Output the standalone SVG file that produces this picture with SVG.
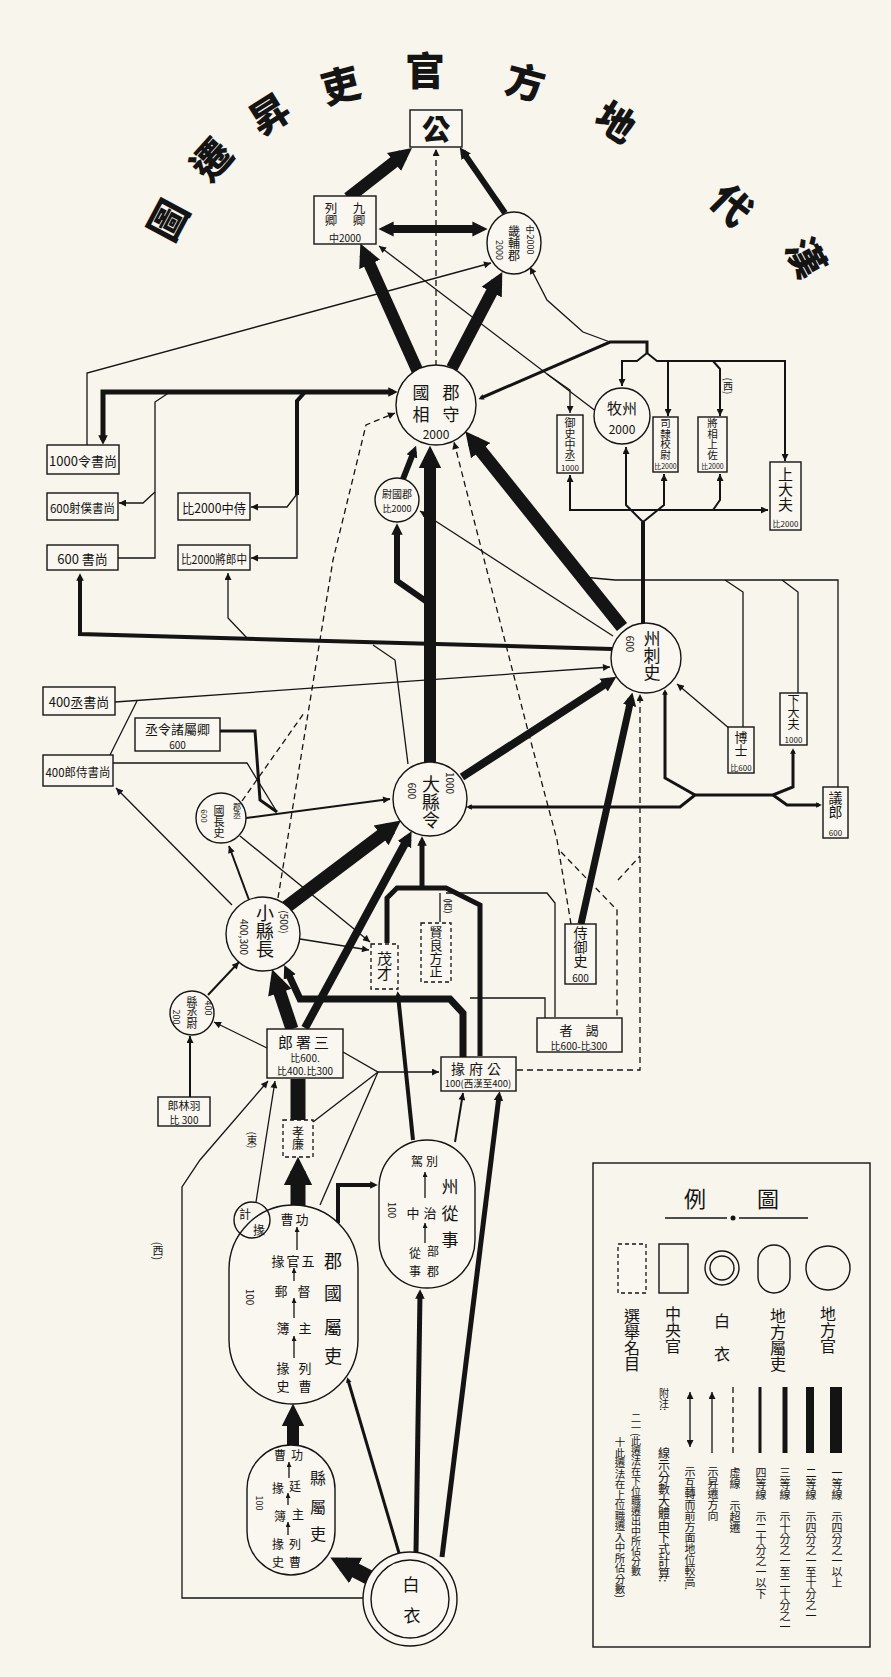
<svg xmlns="http://www.w3.org/2000/svg" width="891" height="1677" viewBox="0 0 891 1677">
<defs>
<style>
.bg{fill:#f7f5ec}
.n{fill:#f9f7ef;stroke:#141414;stroke-width:1.4}
.nd{fill:#f9f7ef;stroke:#141414;stroke-width:1.3;stroke-dasharray:4 3}
.nf{fill:none;stroke:#141414;stroke-width:1.4}
.t{font-family:"Noto Sans CJK TC","Noto Sans CJK SC","Noto Sans CJK JP",sans-serif;fill:#141414;text-anchor:middle;dominant-baseline:central}
.ti{font-size:39px;font-weight:900}
.v{writing-mode:vertical-rl}
.c{fill:none;stroke:#141414;stroke-linejoin:miter}
.thin{stroke-width:1.3}
.dash{stroke-width:1.3;stroke-dasharray:6 4}
.w2{stroke-width:2}.w3{stroke-width:3}.w4{stroke-width:4}.w5{stroke-width:5}.w6{stroke-width:6}.w7{stroke-width:7}.w8{stroke-width:8}.w12{stroke-width:12}.w13{stroke-width:13}.w15{stroke-width:15}
</style>
<marker id="a" viewBox="0 0 10 10" refX="10" refY="5" markerWidth="9" markerHeight="7" markerUnits="userSpaceOnUse" orient="auto-start-reverse"><path d="M0,0L10,5L0,10z" fill="#141414"/></marker>
<marker id="A" viewBox="0 0 10 10" refX="5" refY="5" markerWidth="1.9" markerHeight="2.1" orient="auto-start-reverse"><path d="M0,0L10,5L0,10z" fill="#141414"/></marker>
<marker id="s" viewBox="0 0 10 10" refX="10" refY="5" markerWidth="5" markerHeight="5" markerUnits="userSpaceOnUse" orient="auto"><path d="M0,0L10,5L0,10z" fill="#141414"/></marker>
</defs>
<rect class="bg" x="0" y="0" width="891" height="1677"/>

<g id="title" class="t ti">
<text x="166" y="219" transform="rotate(-62 166 219)">圖</text>
<text x="210" y="158" transform="rotate(-48 210 158)">遷</text>
<text x="268" y="112" transform="rotate(-32 268 112)">昇</text>
<text x="340" y="83" transform="rotate(-15 340 83)">吏</text>
<text x="425" y="68">官</text>
<text x="526" y="80" transform="rotate(15 526 80)">方</text>
<text x="617" y="120" transform="rotate(32 617 120)">地</text>
<text x="733" y="203" transform="rotate(45 733 203)">代</text>
<text x="808" y="256" transform="rotate(62 808 256)">漢</text>
</g>

<g id="connectors" class="c">
<path class="w12" d="M348,198 L403,155" marker-end="url(#A)"/>
<path class="w6" d="M505,213 L463,152" marker-end="url(#A)"/>
<path class="w12" d="M418,372 L365,254" marker-end="url(#A)"/>
<path class="w12" d="M452,368 L497,282" marker-end="url(#A)"/>
<path class="w8" d="M386,229 L480,229" marker-start="url(#A)" marker-end="url(#A)"/>
<path class="dash" d="M436,366 V149" marker-end="url(#a)"/>
<path class="w5" d="M103,440 V392 H393" marker-start="url(#A)" marker-end="url(#A)"/>
<path class="thin" d="M87,445 V373 L491,263" marker-end="url(#a)"/>
<path class="w4" d="M305,392 L297,401 V495"/>
<path class="thin" d="M297,494 L287,507 H251" marker-end="url(#a)"/>
<path class="thin" d="M297,494 V558 H251" marker-end="url(#a)"/>
<path class="thin" d="M170,392 L155,402 V492 L143,503 H119" marker-end="url(#a)"/>
<path class="thin" d="M155,492 V558 H118"/>
<path class="w4" d="M612,649 L80,634 V577" marker-end="url(#A)"/>
<path class="thin" d="M247,638 L228,618 V573" marker-end="url(#a)"/>
<path class="thin" d="M408,764 L395,660 L373,645"/>
<path class="thin" d="M115,702 L610,667" marker-end="url(#a)"/>
<path class="thin" d="M110,755 L137,701"/>
<path class="thin" d="M113,763 H247 L277,812"/>
<path class="w3" d="M220,731 H255 L260,800 L277,812"/>
<path class="w2" d="M246,818 L390,799" marker-end="url(#a)"/>
<path class="thin" d="M232,905 L116,788" marker-end="url(#a)"/>
<path class="w12" d="M430,762 V457" marker-end="url(#A)"/>
<path class="w6" d="M430,604 L397,581 V529" marker-end="url(#A)"/>
<path class="w6" d="M403,479 L414,451" marker-end="url(#A)"/>
<path class="thin" d="M613,636 L420,511" marker-end="url(#a)"/>
<path class="w13" d="M622,627 L473,441" marker-end="url(#A)"/>
<path class="w8" d="M462,777 L610,681" marker-end="url(#A)"/>
<path class="w7" d="M581,924 L631,699" marker-end="url(#A)"/>
<path class="w3" d="M469,807 H680 L695,795 H773 L793,787 V751" marker-start="url(#A)" marker-end="url(#A)"/>
<path class="w3" d="M773,795 L787,805 H819" marker-end="url(#A)"/>
<path class="w3" d="M695,795 L665,778 V692" marker-end="url(#A)"/>
<path class="thin" d="M730,729 L677,684" marker-end="url(#a)"/>
<path class="thin" d="M582,577 L615,580 H838 V787"/>
<path class="thin" d="M725,580 L743,592 V727"/>
<path class="thin" d="M782,580 L798,592 V693"/>
<path class="w4" d="M643,623 V522"/>
<path class="w2" d="M643,522 L626,505 V447" marker-end="url(#a)"/>
<path class="w2" d="M643,522 L664,505 V474" marker-end="url(#a)"/>
<path class="w2" d="M570,475 V510 H768" marker-start="url(#a)" marker-end="url(#a)"/>
<path class="w2" d="M713,510 L720,500 V474" marker-end="url(#a)"/>
<path class="w3" d="M647,353 V342 H610 L481,398" marker-end="url(#A)"/>
<path class="w2" d="M647,353 L637,361 H622 V386" marker-end="url(#a)"/>
<path class="w2" d="M647,353 L657,361 H785 V461" marker-end="url(#a)"/>
<path class="w2" d="M668,361 V416" marker-end="url(#a)"/>
<path class="w2" d="M713,361 L720,369 V416" marker-end="url(#a)"/>
<path class="thin" d="M610,342 L583,332 L547,300 L530,267" marker-end="url(#a)"/>
<path class="thin" d="M597,412 L379,246" marker-end="url(#a)"/>
<path class="thin" d="M547,374 L570,390 V413" marker-end="url(#a)"/>
<path class="dash" d="M278,898 L333,560 L366,425 L395,413" marker-end="url(#a)"/>
<path class="dash" d="M242,801 L304,713"/>
<path class="dash" d="M571,924 L557,840 L527,727 L454,442" marker-end="url(#a)"/>
<path class="dash" d="M561,852 L617,910 V1017"/>
<path class="dash" d="M618,880 L640,856"/>
<path class="dash" d="M517,1070 H640 V694" marker-end="url(#a)"/>
<path class="w13" d="M285,908 L391,828" marker-end="url(#A)"/>
<path class="w8" d="M305,1028 L408,838" marker-end="url(#A)"/>
<path class="w5" d="M387,943 V898 L397,888 H446 L480,905 V1056"/>
<path class="w5" d="M422,889 V841" marker-end="url(#A)"/>
<path class="thin" d="M555,1017 V903 L547,893 H446"/>
<path class="thin" d="M440,922 V893"/>
<path class="w13" d="M292,1029 L276,981" marker-end="url(#A)"/>
<path class="w15" d="M298,1120 V1079"/>
<path class="w15" d="M298,1206 V1171" marker-end="url(#A)"/>
<path class="w7" d="M463,1057 V1013 L450,999 H300 L287,971" marker-end="url(#A)"/>
<path class="thin" d="M545,1018 V998 H470"/>
<path class="thin" d="M300,939 L369,950" marker-end="url(#a)"/>
<path class="thin" d="M240,836 L370,942" marker-end="url(#a)"/>
<path class="w2" d="M249,900 L229,846" marker-end="url(#a)"/>
<path class="w2" d="M208,995 L239,962" marker-end="url(#a)"/>
<path class="w2" d="M190,1097 V1036" marker-end="url(#a)"/>
<path class="thin" d="M267,1048 L214,1022" marker-end="url(#a)"/>
<path class="thin" d="M343,1052 L378,1072 H439" marker-end="url(#a)"/>
<path class="thin" d="M313,1122 L378,1072"/>
<path class="thin" d="M320,1205 L378,1072"/>
<path class="thin" d="M256,1202 L275,1081" marker-end="url(#a)"/>
<path class="thin" d="M363,1598 H182 V1187 L200,1160 L268,1081" marker-end="url(#a)"/>
<path class="w4" d="M413,1140 L398,995" marker-end="url(#A)"/>
<path class="w2" d="M455,1142 L463,1093" marker-end="url(#a)"/>
<path class="w5" d="M442,1557 L499,1096" marker-end="url(#A)"/>
<path class="w5" d="M416,1552 L420,1294" marker-end="url(#A)"/>
<path class="w3" d="M399,1553 L348,1380" marker-end="url(#A)"/>
<path class="w15" d="M376,1581 L343,1564" marker-end="url(#A)"/>
<path class="w12" d="M293,1446 V1415" marker-end="url(#A)"/>
<path class="w4" d="M338,1223 V1185 H374" marker-end="url(#A)"/>
</g>

<g class="t">
<text class="v" x="728" y="386" font-size="10">(西)</text>
<text class="v" x="448" y="906" font-size="9">(西)</text>
<text class="v" x="158" y="1251" font-size="11">(西)</text>
<text class="v" x="252" y="1140" font-size="10">(東)</text>
</g>

<g id="n-gong"><rect class="n" x="410" y="110" width="52" height="37"/><text class="t" x="436" y="128" font-size="28" font-weight="900">公</text></g>
<g id="n-jiuqing"><rect class="n" x="314" y="196" width="62" height="48"/><g class="t"><text class="v" x="331" y="214" font-size="12.5">列卿</text><text class="v" x="359" y="214" font-size="12.5">九卿</text><text x="345" y="237" font-size="10">中2000</text></g></g>
<g id="n-jifu"><ellipse class="n" cx="514" cy="243" rx="27" ry="31"/><g class="t"><text class="v" x="514" y="243" font-size="12">畿輔郡</text><text class="v" x="530" y="240" font-size="9">中2000</text><text class="v" x="499" y="250" font-size="9">2000</text></g></g>
<g id="n-junshou"><circle class="n" cx="436" cy="405" r="40"/><g class="t" font-size="17"><text x="421" y="391">國</text><text x="451" y="391">郡</text><text x="421" y="413">相</text><text x="451" y="413">守</text><text x="436" y="433" font-size="12">2000</text></g></g>
<g id="n-zhoumu"><circle class="n" cx="622" cy="416" r="28"/><g class="t"><text x="622" y="407" font-size="15">牧州</text><text x="622" y="428" font-size="12">2000</text></g></g>
<g id="n-yushi"><rect class="n" x="557" y="415" width="26" height="58"/><g class="t"><text class="v" x="570" y="439" font-size="11">御史中丞</text><text x="570" y="467" font-size="8">1000</text></g></g>
<g id="n-sili"><rect class="n" x="653" y="417" width="25" height="55"/><g class="t"><text class="v" x="665.5" y="439" font-size="10.5">司隸校尉</text><text x="665.5" y="466" font-size="7">比2000</text></g></g>
<g id="n-jiangxiang"><rect class="n" x="698" y="417" width="29" height="55"/><g class="t"><text class="v" x="712.5" y="439" font-size="10.5">將相上佐</text><text x="712.5" y="466" font-size="7">比2000</text></g></g>
<g id="n-shangdafu"><rect class="n" x="770" y="462" width="31" height="68"/><g class="t"><text class="v" x="785.5" y="489" font-size="15">上大夫</text><text x="785.5" y="523" font-size="8">比2000</text></g></g>
<g id="n-duwei"><circle class="n" cx="397" cy="500" r="22"/><g class="t"><text x="397" y="493" font-size="10">尉國郡</text><text x="397" y="508" font-size="9">比2000</text></g></g>

<g id="n-shangshuling"><rect class="n" x="47" y="445" width="72" height="29"/><text class="t" x="83" y="460" font-size="13">1000令書尚</text></g>
<g id="n-puye"><rect class="n" x="47" y="493" width="71" height="27"/><text class="t" x="82.5" y="507" font-size="12" textLength="65" lengthAdjust="spacingAndGlyphs">600射僕書尚</text></g>
<g id="n-shangshu"><rect class="n" x="47" y="545" width="71" height="25"/><text class="t" x="82.5" y="558" font-size="13">600  書尚</text></g>
<g id="n-shizhong"><rect class="n" x="178" y="493" width="72" height="27"/><text class="t" x="214" y="507" font-size="13" textLength="64" lengthAdjust="spacingAndGlyphs">比2000中侍</text></g>
<g id="n-zhonglang"><rect class="n" x="178" y="545" width="72" height="25"/><text class="t" x="214" y="558" font-size="12" textLength="66" lengthAdjust="spacingAndGlyphs">比2000將郎中</text></g>
<g id="n-chengshu"><rect class="n" x="43" y="687" width="72" height="28"/><text class="t" x="79" y="701" font-size="13">400丞書尚</text></g>
<g id="n-shilang"><rect class="n" x="43" y="755" width="70" height="31"/><text class="t" x="78" y="771" font-size="12" textLength="65" lengthAdjust="spacingAndGlyphs">400郎侍書尚</text></g>
<g id="n-zhuling"><rect class="n" x="135" y="718" width="85" height="33"/><g class="t"><text x="177.5" y="728" font-size="13">丞令諸屬卿</text><text x="177.5" y="744" font-size="10">600</text></g></g>

<g id="n-cishi"><circle class="n" cx="646" cy="658" r="35"/><g class="t"><text class="v" x="652" y="656" font-size="17">州刺史</text><text class="v" x="630" y="644" font-size="10">600</text></g></g>
<g id="n-daxianling"><circle class="n" cx="430" cy="799" r="37"/><g class="t"><text class="v" x="431" y="802" font-size="18">大縣令</text><text class="v" x="412" y="791" font-size="10">600</text><text class="v" x="450" y="783" font-size="10">1000</text></g></g>
<g id="n-zhangshi"><circle class="n" cx="221" cy="818" r="25"/><g class="t"><text class="v" x="219" y="822" font-size="11">國長史</text><text class="v" x="237" y="811" font-size="8">郡丞</text><text class="v" x="204" y="816" font-size="8">600</text></g></g>
<g id="n-boshi"><rect class="n" x="728" y="727" width="26" height="46"/><g class="t"><text class="v" x="741" y="744" font-size="13">博士</text><text x="741" y="767" font-size="8">比600</text></g></g>
<g id="n-xiadafu"><rect class="n" x="780" y="693" width="27" height="52"/><g class="t"><text class="v" x="793.5" y="712" font-size="12">下大夫</text><text x="793.5" y="739" font-size="8">1000</text></g></g>
<g id="n-yilang"><rect class="n" x="823" y="787" width="25" height="51"/><g class="t"><text class="v" x="835.5" y="805" font-size="14">議郎</text><text x="835.5" y="832" font-size="8">600</text></g></g>

<g id="n-xiaoxianzhang"><circle class="n" cx="263" cy="934" r="37"/><g class="t"><text class="v" x="265" y="931" font-size="18">小縣長</text><text class="v" x="284" y="922" font-size="10">(500)</text><text class="v" x="244" y="937" font-size="10">400,300</text></g></g>
<g id="n-xiancheng"><circle class="n" cx="192" cy="1013" r="22"/><g class="t"><text class="v" x="192" y="1013" font-size="11">縣丞尉</text><text class="v" x="208" y="1008" font-size="9">400</text><text class="v" x="176" y="1017" font-size="9">200</text></g></g>
<g id="n-yulin"><rect class="n" x="158" y="1097" width="52" height="29"/><g class="t"><text x="184" y="1105" font-size="11">郎林羽</text><text x="184" y="1119" font-size="10">比 300</text></g></g>
<g id="n-sanshu"><rect class="n" x="267" y="1029" width="76" height="49"/><g class="t"><text x="305" y="1041" font-size="15" letter-spacing="3">郎署三</text><text x="305" y="1057" font-size="10">比600.</text><text x="305" y="1070" font-size="10">比400.比300</text></g></g>
<g id="n-maocai"><rect class="nd" x="371" y="944" width="27" height="45"/><text class="t v" x="384.5" y="966" font-size="15">茂才</text></g>
<g id="n-xianliang"><rect class="nd" x="421" y="923" width="30" height="59"/><text class="t v" x="436" y="952" font-size="13">賢良方正</text></g>
<g id="n-yuanfu"><rect class="n" x="441" y="1057" width="75" height="34"/><g class="t"><text x="478" y="1068" font-size="14" letter-spacing="4">掾府公</text><text x="478" y="1083" font-size="9.5">100(西漢至400)</text></g></g>
<g id="n-yezhe"><rect class="n" x="537" y="1018" width="85" height="34"/><g class="t"><text x="579" y="1029" font-size="13">者　謁</text><text x="579" y="1045" font-size="10">比600-比300</text></g></g>
<g id="n-shiyushi"><rect class="n" x="565" y="924" width="31" height="60"/><g class="t"><text class="v" x="580.5" y="947" font-size="14">侍御史</text><text x="580.5" y="977" font-size="10">600</text></g></g>
<g id="n-xiaolian"><rect class="nd" x="283" y="1120" width="30" height="37"/><text class="t v" x="298" y="1138" font-size="12">孝廉</text></g>

<g id="n-zhoucongshi"><rect class="n" x="379" y="1140" width="96" height="148" rx="48" ry="48"/>
<g class="t"><text x="417" y="1160" font-size="12">駕</text><text x="432" y="1160" font-size="12">別</text>
<text x="413" y="1212" font-size="13">中</text><text x="430" y="1212" font-size="13">治</text>
<text x="415" y="1252" font-size="12">從</text><text x="433" y="1250" font-size="12">部</text>
<text x="415" y="1270" font-size="12">事</text><text x="433" y="1270" font-size="12">郡</text>
<text x="450" y="1185" font-size="17">州</text><text x="450" y="1212" font-size="17">從</text><text x="450" y="1238" font-size="17">事</text>
<text class="v" x="392" y="1210" font-size="10">100</text></g>
<path class="c thin" d="M425,1198 V1172" marker-end="url(#s)"/><path class="c thin" d="M425,1243 V1223" marker-end="url(#s)"/></g>

<g id="n-junguo"><rect class="n" x="229" y="1205" width="129" height="199" rx="64.5" ry="64.5"/>
<g class="t" font-size="13"><text x="287" y="1218">曹</text><text x="302" y="1218">功</text>
<text x="278" y="1260">掾</text><text x="293" y="1260">官</text><text x="308" y="1260">五</text>
<text x="281" y="1290">郵</text><text x="304" y="1290">督</text>
<text x="283" y="1327">簿</text><text x="305" y="1327">主</text>
<text x="283" y="1367">掾</text><text x="305" y="1367">列</text>
<text x="283" y="1385">史</text><text x="305" y="1385">曹</text>
<text x="333" y="1260" font-size="18">郡</text><text x="333" y="1292" font-size="18">國</text><text x="333" y="1326" font-size="18">屬</text><text x="333" y="1355" font-size="18">吏</text>
<text class="v" x="250" y="1297" font-size="10">100</text></g>
<path class="c thin" d="M297,1250 V1227" marker-end="url(#s)"/><path class="c thin" d="M294,1281 V1268" marker-end="url(#s)"/><path class="c thin" d="M294,1318 V1298" marker-end="url(#s)"/><path class="c thin" d="M294,1358 V1336" marker-end="url(#s)"/></g>
<g id="n-jiyuan"><circle class="nf" cx="252" cy="1220" r="18"/><g class="t" font-size="12"><text x="245" y="1213">計</text><text x="259" y="1229">掾</text></g></g>

<g id="n-xianshuli"><rect class="n" x="247" y="1445" width="88" height="130" rx="44" ry="44"/>
<g class="t" font-size="12"><text x="280" y="1454">曹</text><text x="297" y="1454">功</text>
<text x="278" y="1487">掾</text><text x="295" y="1485">廷</text>
<text x="280" y="1515">簿</text><text x="298" y="1513">主</text>
<text x="278" y="1543">掾</text><text x="295" y="1543">列</text>
<text x="278" y="1561">史</text><text x="295" y="1561">曹</text>
<text x="318" y="1477" font-size="16">縣</text><text x="318" y="1506" font-size="16">屬</text><text x="318" y="1533" font-size="16">吏</text>
<text class="v" x="259" y="1503" font-size="9">100</text></g>
<path class="c thin" d="M289,1478 V1462" marker-end="url(#s)"/><path class="c thin" d="M288,1505 V1493" marker-end="url(#s)"/><path class="c thin" d="M288,1535 V1522" marker-end="url(#s)"/></g>

<g id="n-baiyi"><circle class="n" cx="410" cy="1599" r="47"/><circle class="nf" cx="410" cy="1599" r="39"/><g class="t" font-size="17"><text x="411" y="1583">白</text><text x="412" y="1614">衣</text></g></g>

<g id="legend">
<rect class="nf" x="593" y="1163" width="277" height="484"/>
<g class="t"><text x="695" y="1197" font-size="22">例</text><text x="768" y="1197" font-size="22">圖</text></g>
<path class="c thin" d="M665,1218 H727 M739,1218 H808"/><circle cx="733" cy="1218" r="2.5" fill="#141414"/>
<rect class="nd" x="618" y="1244" width="28" height="49"/>
<rect class="nf" x="659" y="1244" width="29" height="49"/>
<circle class="nf" cx="722" cy="1268" r="17"/><circle class="nf" cx="722" cy="1268" r="12"/>
<rect class="nf" x="758" y="1245" width="32" height="48" rx="16" ry="16"/>
<circle class="nf" cx="828" cy="1268" r="22"/>
<g class="t" font-size="16"><text class="v" x="632" y="1340">選舉名目</text><text class="v" x="673" y="1330">中央官</text><text x="722" y="1320">白</text><text x="722" y="1353">衣</text><text class="v" x="778" y="1340">地方屬吏</text><text class="v" x="828" y="1330">地方官</text></g>
<path class="c w12" d="M836,1387 V1453"/><path class="c w8" d="M810,1387 V1453"/><path class="c w5" d="M785,1387 V1453"/><path class="c w3" d="M760,1387 V1453"/><path class="c dash" d="M733,1387 V1453"/>
<path class="c thin" d="M712,1453 V1392" marker-end="url(#a)"/><path class="c thin" d="M690,1447 V1392" marker-start="url(#a)" marker-end="url(#a)"/>
<g class="t" font-size="11" style="text-anchor:start">
<text class="v" x="837" y="1467">一等線　示四分之一以上</text>
<text class="v" x="811" y="1467">二等線　示四分之一至十分之一</text>
<text class="v" x="785" y="1467">三等線　示十分之一至二十分之一</text>
<text class="v" x="761" y="1467">四等線　示二十分之一以下</text>
<text class="v" x="735" y="1467">虛線　示超遷</text>
<text class="v" x="713" y="1466">示昇遷方向</text>
<text class="v" x="690" y="1466">示互轉而前方面地位較高.</text>
<text class="v" x="664" y="1388" font-size="10">附注:</text>
<text class="v" x="664" y="1447" font-size="12">線示分數大體由下式計算:</text>
<text class="v" x="636" y="1413" font-size="10">二一(此遷法在下位職遷出中所佔分數</text>
<text class="v" x="620" y="1437" font-size="10.5">十此遷法在上位職遷入中所佔分數)</text>
</g>
</g>
</svg>
